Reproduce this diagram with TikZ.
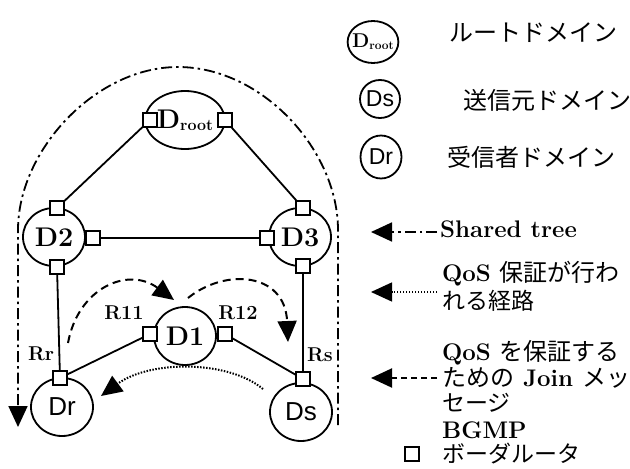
\documentclass[tikz,border=0pt]{standalone}
\usepackage{fontspec}
\newfontfamily\jp{Noto Sans CJK JP}
\newfontfamily\arialf{Liberation Sans}
\usetikzlibrary{shapes.geometric,arrows.meta}
\newcommand{\fs}[1]{\fontsize{#1}{#1}\selectfont}
\begin{document}
\begin{tikzpicture}[x=1pt,y=-1pt,
  dom/.style={draw,ellipse,line width=1.8pt,minimum width=62pt,minimum height=58pt,inner sep=0pt,font=\fs{27}\bfseries},
  ldom/.style={draw,ellipse,line width=1.8pt,minimum width=40pt,minimum height=42pt,inner sep=0pt},
  br/.style={draw,rectangle,line width=1.8pt,minimum size=14pt,inner sep=0pt,fill=white},
  link/.style={line width=1.8pt},
  bigtip/.style={-{Triangle[length=21pt,width=19pt]}},
  shared/.style={line width=1.8pt,dash pattern=on 11pt off 4pt on 2.5pt off 4pt},
  joinmsg/.style={line width=2pt,dash pattern=on 8pt off 5pt},
  qospath/.style={line width=2pt,dash pattern=on 1.5pt off 1.5pt},
  lbl/.style={font=\fs{20}\bfseries},
  txt/.style={anchor=west,inner sep=0pt,font=\fs{24}\bfseries},
  jtxt/.style={anchor=west,inner sep=0pt,font=\fs{23}\jp}]
\useasboundingbox (0,0) rectangle (630,469);

% domains
\node[dom] (droot) at (185,120) {D\raisebox{-2pt}{\fs{16}root}};
\node[dom] (d2) at (54,237) {D2};
\node[dom] (d3) at (300,237) {D3};
\node[dom] (d1) at (185,336) {D1};
\node[dom,font=\fs{26}\arialf] (dr) at (62,407) {Dr};
\node[dom,font=\fs{26}\arialf] (ds) at (301,412) {Ds};

% border routers
\coordinate (prl) at (150,120);
\coordinate (prr) at (225,120);
\coordinate (p2t) at (57,208);
\coordinate (p2r) at (93,238);
\coordinate (p2b) at (57,267);
\coordinate (p3l) at (267,238);
\coordinate (p3t) at (303,208);
\coordinate (p3b) at (303,266);
\coordinate (p1l) at (150,334);
\coordinate (p1r) at (225,334);
\coordinate (prt) at (60,378);
\coordinate (pst) at (303,379);

\draw[link] (prl) -- (p2t);
\draw[link] (prr) -- (p3t);
\draw[link] (p2r) -- (p3l);
\draw[link] (p2b) -- (prt);
\draw[link] (p3b) -- (pst);
\draw[link] (p1l) -- (prt);
\draw[link] (p1r) -- (pst);

\foreach \c in {prl,prr,p2t,p2r,p2b,p3l,p3t,p3b,p1l,p1r,prt,pst}
  \node[br] (b\c) at (\c) {};

% router labels
\node[lbl] (r11) at (124,313) {R11};
\node[lbl] (r12) at (238,313) {R12};
\node[lbl] (rr) at (41,354) {Rr};
\node[lbl] (rs) at (320,355) {Rs};

% shared tree
\coordinate (stR) at (338,425);
\coordinate (stL) at (18,427);
\draw[shared,bigtip] (stR) -- (338,230) .. controls (338,150) and (262,67) .. (178,67)
   .. controls (96,67) and (18,150) .. (18,230) -- (stL);

% join messages
\coordinate (j1s) at (68,343);
\coordinate (j1e) at (174,300);
\coordinate (j2s) at (188,298);
\coordinate (j2e) at (288,342);
\draw[joinmsg,bigtip] (j1s) .. controls (78,288) and (128,266) .. (j1e);
\draw[joinmsg,bigtip] (j2s) .. controls (225,268) and (285,272) .. (j2e);

% QoS path
\coordinate (qs) at (263,389);
\coordinate (qe) at (101,396);
\draw[qospath,bigtip] (qs) .. controls (228,360) and (150,360) .. (qe);

% legend
\node[ldom,inner sep=-3pt,font=\fs{20}\bfseries] (lroot) at (373,42) {D\raisebox{-2pt}{\fs{12}root}};
\node[jtxt,font=\fs{24}\jp] (troot) at (449,33) {ルートドメイン};
\node[ldom,minimum height=38pt,font=\fs{23}\arialf] (lds) at (380,99) {Ds};
\node[jtxt,font=\fs{24}\jp] (tds) at (463,100) {送信元ドメイン};
\node[ldom,minimum width=41pt,minimum height=43pt,font=\fs{23}\arialf] (ldr) at (381,157) {Dr};
\node[jtxt,font=\fs{24}\jp] (tdr) at (447,157) {受信者ドメイン};

\coordinate (a1s) at (437,232);
\coordinate (a1e) at (371,232);
\draw[shared,bigtip] (a1s) -- (a1e);
\node[txt] (tshared) at (440,229) {Shared tree};

\coordinate (a2s) at (437,292);
\coordinate (a2e) at (371,292);
\draw[qospath,line width=1.4pt,bigtip] (a2s) -- (a2e);
\node[txt] (tq1) at (442,274) {QoS {\mdseries\jp 保証が行わ}};
\node[jtxt] (tq2) at (442,301) {れる経路};

\coordinate (a3s) at (437,378);
\coordinate (a3e) at (371,378);
\draw[joinmsg,dash pattern=on 6pt off 4pt,bigtip] (a3s) -- (a3e);
\node[txt] (tj1) at (442,353) {QoS {\mdseries\jp を保証する}};
\node[txt] (tj2) at (442,378) {{\mdseries\jp ための} Join {\mdseries\jp メッ}};
\node[jtxt] (tj3) at (442,403) {セージ};
\node[txt] (tb1) at (442,430) {BGMP};
\node[jtxt] (tb2) at (442,454) {ボーダルータ};
\node[br] (lbr) at (412,454) {};
\end{tikzpicture}
\end{document}
